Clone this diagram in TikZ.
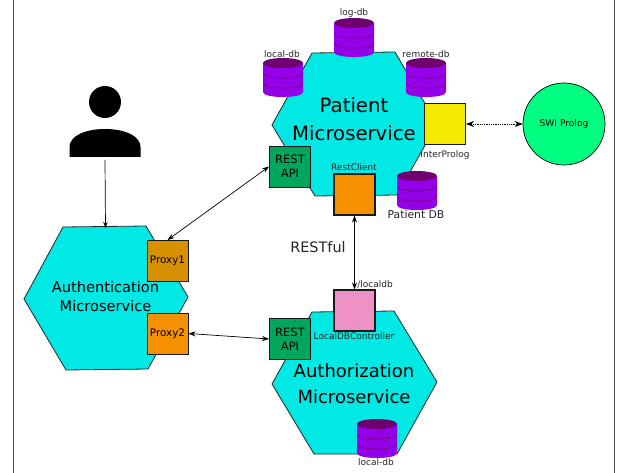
\documentclass[tikz,border=0pt]{standalone}
\usepackage{fontspec}
\setmainfont{DejaVu Sans}
\usetikzlibrary{arrows.meta}
\definecolor{hexc}{HTML}{00E9E4}
\definecolor{greenb}{HTML}{00A65B}
\definecolor{orangeb}{HTML}{F59000}
\definecolor{proxyb}{HTML}{D69000}
\definecolor{yellowb}{HTML}{F5EB00}
\definecolor{pinkb}{HTML}{EE91C4}
\definecolor{swi}{HTML}{00FF80}
\definecolor{cyl}{HTML}{9400E8}
\definecolor{cyltop}{HTML}{6E0070}
\tikzset{
 x=1pt,y=-1pt,
 hexa/.style={draw=black!85,fill=hexc,line width=0.8pt},
 boxn/.style={draw=black!90,line width=0.9pt,minimum width=41pt,minimum height=41pt,inner sep=0pt,align=center,font=\fontsize{11.5}{14}\selectfont},
 lab/.style={inner sep=0pt,text=black!85,font=\fontsize{9}{11}\selectfont},
 big/.style={inner sep=0pt,align=center,font=\fontsize{19.7}{28}\selectfont},
 conn/.style={draw=black,line width=0.7pt,{Stealth[length=7pt,width=5pt]}-{Stealth[length=7pt,width=5pt]}},
 conn1/.style={draw=black,line width=0.7pt,-{Stealth[length=6pt,width=4.5pt]}},
 dotc/.style={draw=black,line width=0.8pt,densely dotted,{Stealth[length=8pt,width=6pt]}-{Stealth[length=8pt,width=6pt]}},
 pics/dbcyl/.style={code={
  \fill[cyl] (-20,5) -- (-20,34) .. controls (-20,40.7) and (20,40.7) .. (20,34) -- (20,5) -- cycle;
  \draw[cyltop,line width=0.6pt] (-20,15) .. controls (-20,21.7) and (20,21.7) .. (20,15);
  \draw[cyltop,line width=0.6pt] (-20,25) .. controls (-20,31.7) and (20,31.7) .. (20,25);
  \fill[cyltop] (0,5) ellipse[x radius=20,y radius=5];
 }}
}
\begin{document}
\begin{tikzpicture}
\useasboundingbox (0,0) rectangle (618,473);
\fill[white] (0,0) rectangle (618,473);
\draw[black!70,line width=1pt] (13,0) -- (13,473);
\draw[black!70,line width=1pt] (614,0) -- (614,473);
% hexagons
\draw[hexa] (272,125) -- (312,53) -- (395,52) -- (437,124) -- (397,195) -- (315,196) -- cycle;
\draw[hexa] (24,299) -- (63,227) -- (146,226) -- (188,297) -- (148,369) -- (66,370) -- cycle;
\draw[hexa] (272,384) -- (312,312) -- (394,311) -- (437,382) -- (397,454) -- (314,454) -- cycle;
% cylinders
\path (354,18) pic {dbcyl};
\path (283,58) pic {dbcyl};
\path (426,58) pic {dbcyl};
\path (417,171) pic {dbcyl};
\path (377,419) pic {dbcyl};
% person
\fill[black] (105,102) circle[radius=16];
\fill[black] (69.5,157) -- (69.5,147) .. controls (69.5,136) and (85,129) .. (105,129) .. controls (125,129) and (140.5,136) .. (140.5,147) -- (140.5,157) -- cycle;
\coordinate (person) at (105,160);
% boxes
\node[boxn,fill=greenb] (rest1) at (290,166.5) {REST\\API};
\node[boxn,fill=orangeb,line width=1.1pt] (rc) at (354.5,194.5) {};
\node[boxn,fill=yellowb,line width=1.1pt] (ip) at (445,124) {};
\node[boxn,fill=proxyb] (p1) at (167.5,261) {\fontsize{10.4}{12}\selectfont Proxy1};
\node[boxn,fill=orangeb] (p2) at (167.5,333.5) {\fontsize{10.4}{12}\selectfont Proxy2};
\node[boxn,fill=greenb] (rest2) at (290,339) {REST\\API};
\node[boxn,fill=pinkb,line width=1.1pt] (ldb) at (354.5,310.5) {};
\node[draw=black,line width=0.7pt,fill=swi,circle,minimum size=82pt,inner sep=0pt,font=\fontsize{9.1}{11}\selectfont] (swi) at (564,124) {SWI Prolog};
% hexagon titles
\node[big] (t1) at (354,119) {Patient\\Microservice};
\node[big,font=\fontsize{14.6}{19}\selectfont] (t2) at (105.5,296.5) {Authentication\\Microservice};
\node[big,font=\fontsize{18}{26}\selectfont] (t3) at (354,384) {Authorization\\Microservice};
% labels
\node[lab] (l1) at (354,13) {log-db};
\node[lab] (l2) at (282,54) {local-db};
\node[lab] (l3) at (426,54) {remote-db};
\node[lab] (l4) at (354,167) {RestClient};
\node[lab] (l5) at (445,155) {InterProlog};
\node[lab,font=\fontsize{10.8}{13}\selectfont] (l6) at (416,214) {Patient DB};
\node[lab] (l7) at (375,284) {/localdb};
\node[lab] (l8) at (354,336) {LocalDBController};
\node[lab] (l9) at (376,462) {local-db};
\node[lab,font=\fontsize{14.4}{17}\selectfont] (l10) at (318,247) {RESTful};
% connectors
\draw[conn1] (person) -- (105.5,228);
\draw[conn] (p1.north) -- (rest1.west);
\draw[conn] (p2.east) -- (rest2.west);
\draw[conn] (rc.south) -- (ldb.north);
\draw[dotc] (ip.east) -- (swi.west);
\end{tikzpicture}
\end{document}
